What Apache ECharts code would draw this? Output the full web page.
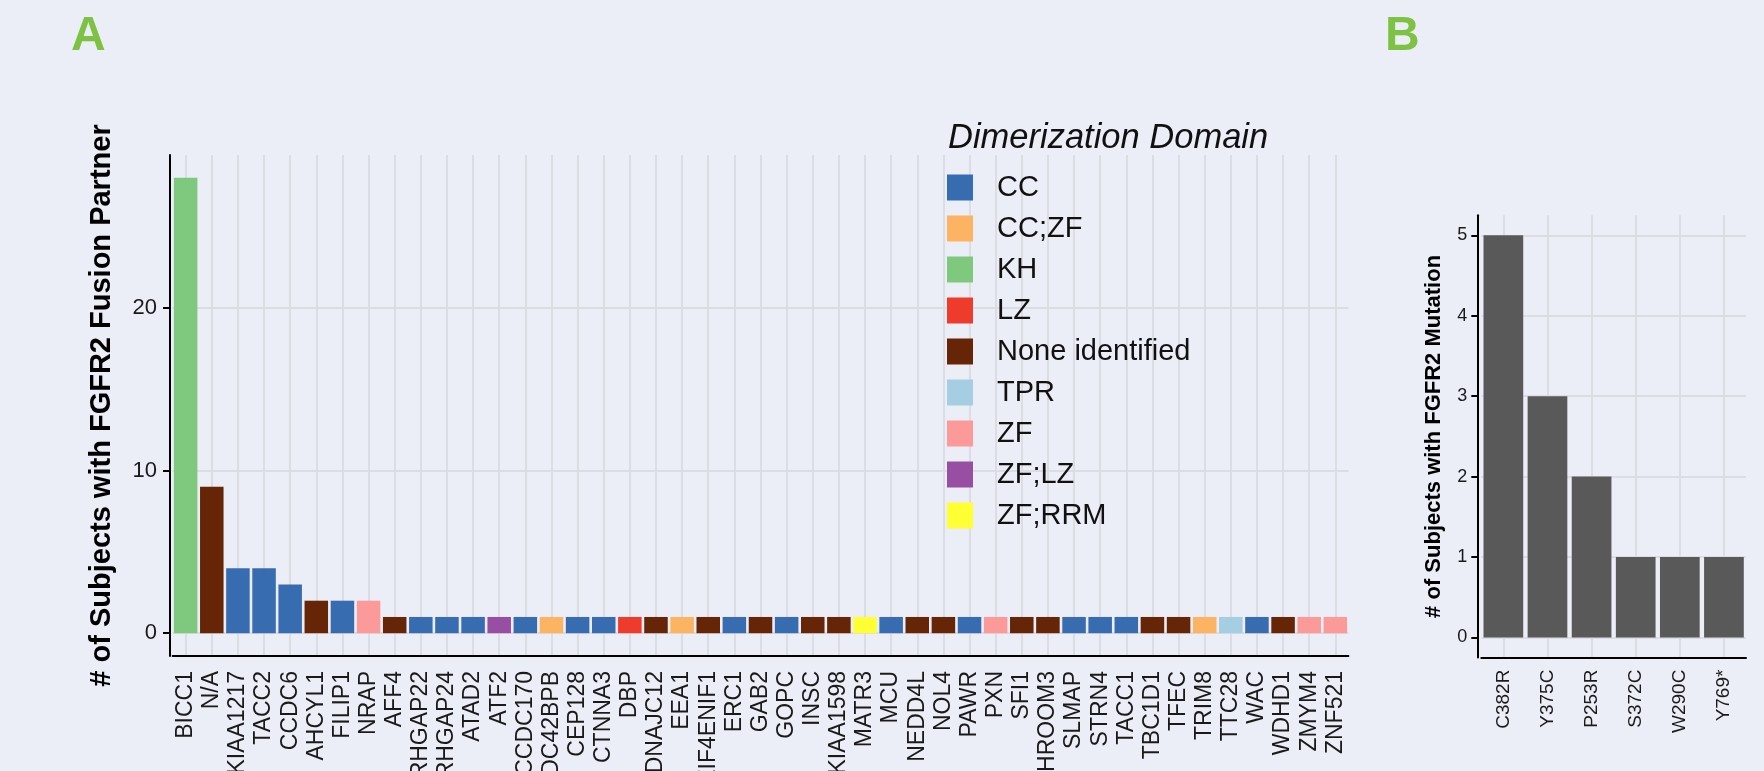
<!DOCTYPE html>
<html>
<head>
<meta charset="utf-8">
<script src="https://cdn.jsdelivr.net/npm/echarts@6/dist/echarts.min.js"></script>
<style>
  html, body { margin: 0; padding: 0; background: #ebedf7; }
  #chart { width: 1764px; height: 771px; }
</style>
</head>
<body>
<div id="chart"></div>
<script>
// ===== data =====
const fusionGenes = ['BICC1', 'N/A', 'KIAA1217', 'TACC2', 'CCDC6', 'AHCYL1', 'FILIP1', 'NRAP', 'AFF4',
  'ARHGAP22', 'ARHGAP24', 'ATAD2', 'ATF2', 'CCDC170', 'CDC42BPB', 'CEP128', 'CTNNA3', 'DBP', 'DNAJC12',
  'EEA1', 'EIF4ENIF1', 'ERC1', 'GAB2', 'GOPC', 'INSC', 'KIAA1598', 'MATR3', 'MCU', 'NEDD4L', 'NOL4',
  'PAWR', 'PXN', 'SFI1', 'SHROOM3', 'SLMAP', 'STRN4', 'TACC1', 'TBC1D1', 'TFEC', 'TRIM8', 'TTC28',
  'WAC', 'WDHD1', 'ZMYM4', 'ZNF521'];
const fusionCounts = [28, 9, 4, 4, 3, 2, 2, 2, 1,
  1, 1, 1, 1, 1, 1, 1, 1, 1, 1,
  1, 1, 1, 1, 1, 1, 1, 1, 1, 1, 1,
  1, 1, 1, 1, 1, 1, 1, 1, 1, 1, 1,
  1, 1, 1, 1];
const fusionDomains = ['KH', 'None identified', 'CC', 'CC', 'CC', 'None identified', 'CC', 'ZF', 'None identified',
  'CC', 'CC', 'CC', 'ZF;LZ', 'CC', 'CC;ZF', 'CC', 'CC', 'LZ', 'None identified',
  'CC;ZF', 'None identified', 'CC', 'None identified', 'CC', 'None identified', 'None identified', 'ZF;RRM', 'CC', 'None identified', 'None identified',
  'CC', 'ZF', 'None identified', 'None identified', 'CC', 'CC', 'CC', 'None identified', 'None identified', 'CC;ZF', 'TPR',
  'CC', 'None identified', 'ZF', 'ZF'];
const domainNames = ['CC', 'CC;ZF', 'KH', 'LZ', 'None identified', 'TPR', 'ZF', 'ZF;LZ', 'ZF;RRM'];
const domainColors = ['#386cb0', '#fdb462', '#7fc97f', '#ef3b2c', '#662506', '#a6cee3', '#fb9a99', '#984ea3', '#ffff33'];
const fusionTicks = [0, 10, 20];

const mutations = ['C382R', 'Y375C', 'P253R', 'S372C', 'W290C', 'Y769*'];
const mutationCounts = [5, 3, 2, 1, 1, 1];
const mutationTicks = [0, 1, 2, 3, 4, 5];

// ===== styles =====
const FONT = 'Liberation Sans, Arial, sans-serif';
const gridColor = '#dcdde3';
const axisBlack = { show: true, onZero: false, lineStyle: { color: '#000', width: 2 } };

// horizontal grid lines (behind the bars)
function gridSeries(xi, ticks) {
  return {
    type: 'line', xAxisIndex: xi, yAxisIndex: xi, data: [], z: 1, silent: true,
    markLine: {
      z: 1, symbol: 'none', silent: true, animation: false, label: { show: false },
      lineStyle: { color: gridColor, width: 2, type: 'solid' },
      data: ticks.map(v => ({ yAxis: v })),
    },
  };
}

const domainSeries = domainNames.map((d, k) => ({
  type: 'bar', name: d, xAxisIndex: 0, yAxisIndex: 0, stack: 'fusion', z: 3,
  barCategoryGap: '10%',
  itemStyle: { color: domainColors[k] },
  data: fusionCounts.map((v, i) => (fusionDomains[i] === d ? v : null)),
}));

const chart = echarts.init(document.getElementById('chart'));
chart.setOption({
  animation: false,
  backgroundColor: '#ebedf7',
  textStyle: { fontFamily: FONT },
  title: [
    { text: 'A', left: 66, top: 8, textStyle: { fontSize: 48, fontWeight: 'bold', color: '#7dc242', fontFamily: FONT } },
    { text: 'B', left: 1380, top: 8, textStyle: { fontSize: 48, fontWeight: 'bold', color: '#7dc242', fontFamily: FONT } },
    { text: 'Dimerization Domain', left: 943, top: 116, textStyle: { fontSize: 34.5, fontStyle: 'italic', fontWeight: 'normal', color: '#111', fontFamily: FONT } },
  ],
  legend: {
    data: domainNames, orient: 'vertical', left: 947, top: 173, padding: 0,
    itemWidth: 26, itemHeight: 26, itemGap: 12, icon: 'rect',
    textStyle: { fontSize: 29, color: '#111', fontFamily: FONT, lineHeight: 28, padding: [0, 0, 0, 19] },
    selectedMode: false,
  },
  grid: [
    { left: 172.6, top: 155, width: 1175.8, height: 501, outerBoundsMode: 'none', containLabel: false },
    { left: 1481.3, top: 215.2, width: 264.7, height: 442.4, outerBoundsMode: 'none', containLabel: false },
  ],
  xAxis: [
    {
      type: 'category', gridIndex: 0, data: fusionGenes,
      axisLine: axisBlack,
      axisTick: { alignWithLabel: true, interval: 0, length: 8, lineStyle: { color: '#000', width: 2 } },
      axisLabel: { interval: 0, rotate: 90, fontSize: 23, color: '#1a1a1a', margin: 15, fontFamily: FONT },
      splitLine: { show: true, interval: 0, alignWithLabel: true, lineStyle: { color: gridColor, width: 2 } },
    },
    {
      type: 'category', gridIndex: 1, data: mutations,
      axisLine: axisBlack,
      axisTick: { alignWithLabel: true, interval: 0, length: 7, lineStyle: { color: '#000', width: 2 } },
      axisLabel: { interval: 0, rotate: 90, fontSize: 19, color: '#1a1a1a', margin: 12, fontFamily: FONT },
      splitLine: { show: true, interval: 0, alignWithLabel: true, lineStyle: { color: gridColor, width: 2 } },
    },
  ],
  yAxis: [
    {
      type: 'value', gridIndex: 0, min: -1.4, max: 29.4, offset: 2.6,
      name: '# of Subjects with FGFR2 Fusion Partner', nameLocation: 'middle', nameGap: 54,
      nameTextStyle: { fontSize: 29, fontWeight: 'bold', color: '#000', fontFamily: FONT },
      axisLine: axisBlack,
      axisTick: { show: true, customValues: fusionTicks, length: 7, lineStyle: { color: '#000', width: 2 } },
      axisLabel: { customValues: fusionTicks, fontSize: 22, color: '#1a1a1a', margin: 13, fontFamily: FONT },
      splitLine: { show: false },
    },
    {
      type: 'value', gridIndex: 1, min: -0.25, max: 5.25, offset: 4,
      name: '# of Subjects with FGFR2 Mutation', nameLocation: 'middle', nameGap: 32,
      nameTextStyle: { fontSize: 22, fontWeight: 'bold', color: '#000', fontFamily: FONT },
      axisLine: axisBlack,
      axisTick: { show: true, customValues: mutationTicks, length: 6, lineStyle: { color: '#000', width: 2 } },
      axisLabel: { customValues: mutationTicks, fontSize: 18, color: '#1a1a1a', margin: 10, fontFamily: FONT },
      splitLine: { show: false },
    },
  ],
  series: [
    gridSeries(0, fusionTicks),
    gridSeries(1, mutationTicks),
    ...domainSeries,
    {
      type: 'bar', name: 'mutation', xAxisIndex: 1, yAxisIndex: 1, barCategoryGap: '10%', z: 3,
      itemStyle: { color: '#595959' },
      data: mutationCounts,
    },
  ],
});
window.addEventListener('resize', () => chart.resize());
</script>
</body>
</html>
